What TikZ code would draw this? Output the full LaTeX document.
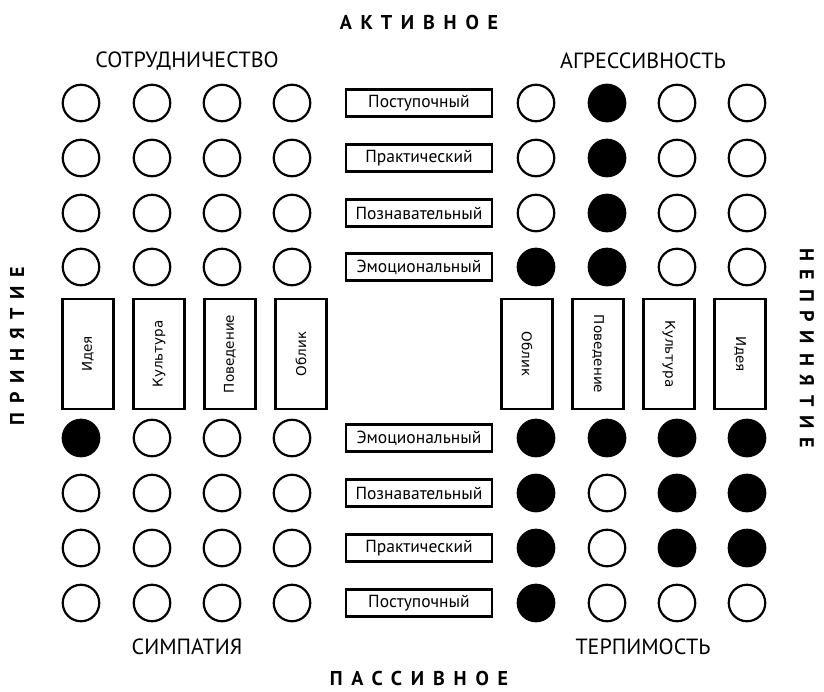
\documentclass[tikz,border=0pt]{standalone}
\usepackage{fontspec}
\setmainfont{PT Sans}
\newfontfamily\condf{PT Sans}
\newfontfamily\vertf{DejaVu Sans}
\newfontfamily\spacedf{PT Sans}[LetterSpace=44,BoldFont={PT Sans Bold}]
\tikzset{
  dot/.style={circle, draw, line width=2.2pt, minimum size=36.5pt, inner sep=0pt},
  hbox/.style={draw, line width=2.2pt, minimum width=146pt, minimum height=27pt, inner sep=0pt, font=\condf\fontsize{17.5}{20}\selectfont},
  vbox/.style={draw, line width=2.2pt, minimum width=110pt, minimum height=51pt, inner sep=0pt, font=\vertf\fontsize{13.5}{15}\selectfont},
  head/.style={font=\condf\fontsize{22}{25}\selectfont},
  pole/.style={font=\spacedf\bfseries\fontsize{20}{23}\selectfont}
}
\begin{document}
\begin{tikzpicture}[x=1pt,y=-1pt]
\useasboundingbox (0,0) rectangle (824,691);
% rows
\foreach \y/\lab/\la/\lb/\lc/\ld/\ra/\rb/\rc/\rd [count=\i] in {
  103/Поступочный/white/white/white/white/white/black/white/white,
  158/Практический/white/white/white/white/white/black/white/white,
  213/Познавательный/white/white/white/white/white/black/white/white,
  267/Эмоциональный/white/white/white/white/black/black/white/white,
  438/Эмоциональный/black/white/white/white/black/black/black/black,
  493/Познавательный/white/white/white/white/black/white/black/black,
  548/Практический/white/white/white/white/black/white/black/black,
  603/Поступочный/white/white/white/white/black/white/white/white}{
  \node[hbox] (b\i) at (419,\y) {\lab};
  \node[dot, fill=\la] (l\i a) at (81,\y) {};
  \node[dot, fill=\lb] (l\i b) at (152,\y) {};
  \node[dot, fill=\lc] (l\i c) at (222,\y) {};
  \node[dot, fill=\ld] (l\i d) at (292,\y) {};
  \node[dot, fill=\ra] (r\i a) at (536,\y) {};
  \node[dot, fill=\rb] (r\i b) at (607,\y) {};
  \node[dot, fill=\rc] (r\i c) at (677,\y) {};
  \node[dot, fill=\rd] (r\i d) at (747,\y) {};
}
% vertical boxes
\node[vbox, rotate=90] (vl1) at (88,354) {Идея};
\node[vbox, rotate=90] (vl2) at (159,354) {Культура};
\node[vbox, rotate=90] (vl3) at (230,354) {Поведение};
\node[vbox, rotate=90] (vl4) at (301,354) {Облик};
\node[vbox, rotate=-90] (vr1) at (527,354) {Облик};
\node[vbox, rotate=-90] (vr2) at (598,354) {Поведение};
\node[vbox, rotate=-90] (vr3) at (669,354) {Культура};
\node[vbox, rotate=-90] (vr4) at (740,354) {Идея};
% headings
\node[head] (t1) at (187,61) {СОТРУДНИЧЕСТВО};
\node[head] (t2) at (643,61) {АГРЕССИВНОСТЬ};
\node[head] (t3) at (187,647) {СИМПАТИЯ};
\node[head] (t4) at (643,647) {ТЕРПИМОСТЬ};
\node[pole] (p1) at (419,22) {АКТИВНОЕ};
\node[pole] (p2) at (419,678) {ПАССИВНОЕ};
\node[pole, rotate=90] (p3) at (17,346) {ПРИНЯТИЕ};
\node[pole, rotate=-90] (p4) at (807,348) {НЕПРИНЯТИЕ};
\end{tikzpicture}
\end{document}
